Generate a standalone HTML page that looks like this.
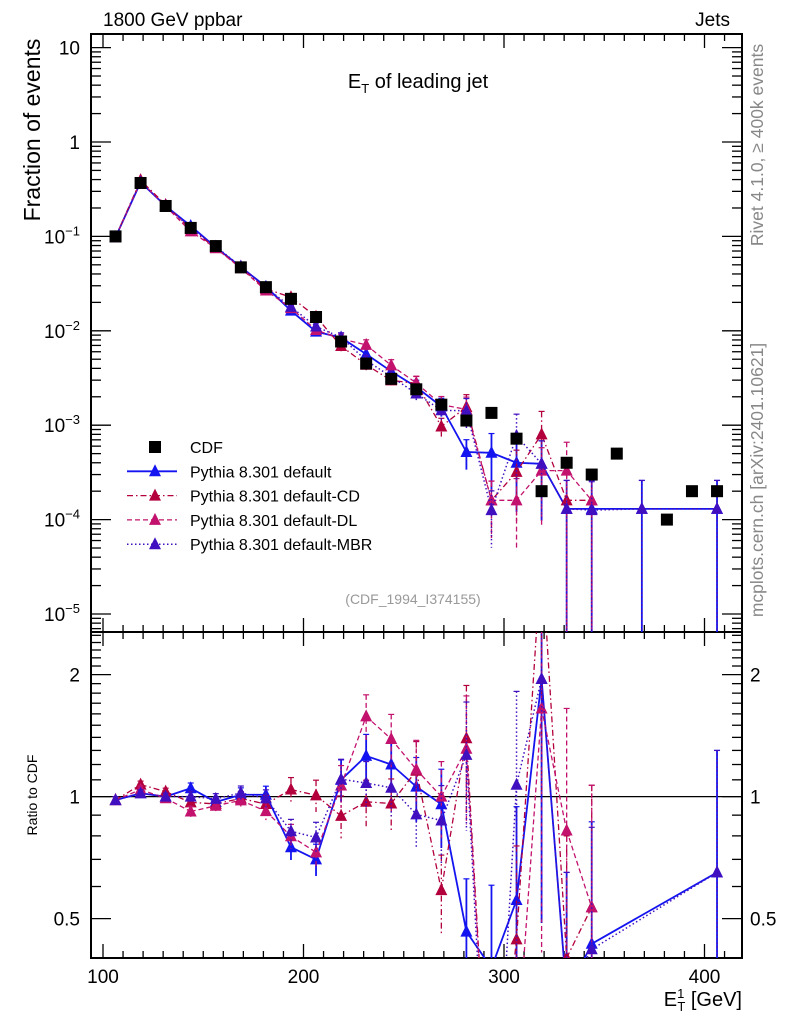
<!DOCTYPE html>
<html><head><meta charset="utf-8"><style>
html,body{margin:0;padding:0;background:#fff;overflow:hidden;width:786px;height:1024px;}
svg{display:block;font-family:"Liberation Sans",sans-serif;}
</style></head><body>
<svg id="chart" width="786" height="1024" viewBox="0 0 786 1024" xmlns="http://www.w3.org/2000/svg">
<g id="static">
<text x="103" y="26" font-size="19">1800 GeV ppbar</text>
<text x="730" y="26" font-size="19" text-anchor="end">Jets</text>
<text x="418" y="88" font-size="20" text-anchor="middle">E<tspan font-size="13" dy="5">T</tspan><tspan dy="-5"> of leading jet</tspan></text>
<text transform="translate(40,130) rotate(-90)" font-size="23" text-anchor="middle">Fraction of events</text>
<text transform="translate(37,795) rotate(-90)" font-size="14" text-anchor="middle">Ratio to CDF</text>
<text transform="translate(763,145) rotate(-90)" font-size="17.5" fill="#888" text-anchor="middle">Rivet 4.1.0, ≥ 400k events</text>
<text transform="translate(763,480) rotate(-90)" font-size="17.5" fill="#888" text-anchor="middle">mcplots.cern.ch [arXiv:2401.10621]</text>
<text x="413" y="604" font-size="14" fill="#999" text-anchor="middle">(CDF_1994_I374155)</text>
<text x="742" y="1006" font-size="20" text-anchor="end">E<tspan font-size="13" dy="-8">1</tspan><tspan font-size="13" dx="-7" dy="13">T</tspan><tspan dy="-5"> [GeV]</tspan></text>
</g>
<g id="plot"></g>
</svg>
<script>
// ---- data ----
const binCenters = [106.25,118.75,131.25,143.75,156.25,168.75,181.25,193.75,206.25,218.75,231.25,243.75,256.25,268.75,281.25,293.75,306.25,318.75,331.25,343.75,356.25,368.75,381.25,393.75,406.25];
const cdfValues = [0.1,0.368,0.21,0.123,0.079,0.047,0.029,0.0218,0.014,0.0077,0.0045,0.0031,0.0024,0.00165,0.00112,0.00135,0.00072,0.0002,0.0004,0.0003,0.0005,null,0.0001,0.0002,0.0002];
const defaultValues = [0.098,0.375,0.21,0.129,0.0766,0.0475,0.0293,0.01635,0.0098,0.00847,0.00567,0.00372,0.00254,0.00158,0.00052,0.00051,0.0004,0.00039,0.00013,0.00013,null,0.00013,null,null,0.00013];
const cdValues = [0.098,0.394,0.216,0.119,0.0758,0.0465,0.0278,0.0227,0.0141,0.0069,0.00437,0.00298,0.00278,0.00097,0.00156,0.00016,0.00032,0.0008,0.00016,0.00016,null,null,null,null,null];
const dlValues = [0.098,0.383,0.208,0.113,0.075,0.046,0.0267,0.0174,0.0102,0.0082,0.0071,0.0043,0.0028,0.00165,0.00147,0.00016,0.00016,0.00033,0.00033,0.00016,null,null,null,null,null];
const mbrValues = [0.098,0.375,0.21,0.123,0.078,0.048,0.0287,0.0179,0.0111,0.0085,0.00486,0.00326,0.00217,0.00144,0.00142,0.000126,0.00077,0.00039,0.00013,0.000126,null,0.00013,null,null,0.00013];
const relErrors = [0.02,0.02,0.02,0.03,0.03,0.04,0.05,0.07,0.09,0.12,0.13,0.15,0.18,0.22,0.35,0.6,0.7,0.75,1,1,1,1,1,1,1];
const mainTickLabels = ["10","1","10⁻¹","10⁻²","10⁻³","10⁻⁴","10⁻⁵"];
const xTickLabels = ["100","200","300","400"];
const ratioTickLabels = ["0.5","1","2"];

const series = [
 {name:"Pythia 8.301 default", key:"default", vals:defaultValues, color:"#1414f0", dash:"", width:1.8},
 {name:"Pythia 8.301 default-CD", key:"cd", vals:cdValues, color:"#b3003c", dash:"6,3,1.5,3", width:1.3},
 {name:"Pythia 8.301 default-DL", key:"dl", vals:dlValues, color:"#c2126e", dash:"5,3", width:1.3},
 {name:"Pythia 8.301 default-MBR", key:"mbr", vals:mbrValues, color:"#4010c0", dash:"1.5,2.5", width:1.5}
];

// ---- axes ----
const L=91, R=742, T=34, MB=632, RB=958;
const X = e => 103 + 2.005*(e-100);
const Y = v => Math.min(MB+10, Math.max(T-10, 142 - 94.4*Math.log10(v)));
const YRraw = r => 796.6 - 122*Math.log2(r);
const YR = r => Math.min(RB+10, Math.max(MB-10, YRraw(r)));
const NS="http://www.w3.org/2000/svg";
const plot=document.getElementById('plot');
function mk(tag, attrs, parent){const el=document.createElementNS(NS,tag);for(const k in attrs)el.setAttribute(k,attrs[k]);(parent||plot).appendChild(el);return el;}

const defs=mk('defs',{});
const c1=mk('clipPath',{id:'clipMain'},defs); mk('rect',{x:L,y:T,width:R-L,height:MB-T},c1);
const c2=mk('clipPath',{id:'clipRatio'},defs); mk('rect',{x:L,y:MB,width:R-L,height:RB-MB},c2);

let f1=mk('rect',{x:L,y:T,width:R-L,height:MB-T,fill:'none',stroke:'#000','stroke-width':2});


let f2=mk('rect',{x:L,y:MB,width:R-L,height:RB-MB,fill:'none',stroke:'#000','stroke-width':2});



const xt=mk('g',{stroke:'#000','stroke-width':1.3});


for(let e=100;e<=415;e+=10){
  const x=X(e); const major=(e%100===0); const len=major?14:7;
  [[T,1],[MB,-1],[MB,1],[RB,-1]].forEach(([y0,d])=>mk('line',{x1:x,x2:x,y1:y0,y2:y0+d*len},xt));
}
xTickLabels.forEach((t,i)=>{
  const el=mk('text',{x:X(100*(i+1)),y:RB+25,'font-size':19,'text-anchor':'middle'});
  el.textContent=t;
  
  
});

const yt=mk('g',{stroke:'#000','stroke-width':1.3});


for(let d=-6;d<=1;d++){
  for(let m=1;m<10;m++){
    const v=m*Math.pow(10,d); const y=142 - 94.4*Math.log10(v);
    if(y<T||y>MB)continue;
    const len=m===1?20:10;
    mk('line',{x1:L,x2:L+len,y1:y,y2:y},yt);
    mk('line',{x1:R,x2:R-len,y1:y,y2:y},yt);
  }
}
mainTickLabels.forEach((t,i)=>{
  const v=Math.pow(10,1-i);
  const el=mk('text',{x:80,y:Y(v)+7,'font-size':19,'text-anchor':'end'});
  
  
  if(i<2){el.textContent=t;}else{
    el.textContent='10';
    const sp=mk('tspan',{'font-size':13,dy:-8},el); sp.textContent='−'+(i-1);
  }
});

const rt=mk('g',{stroke:'#000','stroke-width':1.3});


for(let k=4;k<=25;k++){
  const r=k/10; const y=YRraw(r); if(y<MB||y>RB)continue;
  const major=(k===5||k===10||k===20); const len=major?20:10;
  mk('line',{x1:L,x2:L+len,y1:y,y2:y},rt);
  mk('line',{x1:R,x2:R-len,y1:y,y2:y},rt);
}
ratioTickLabels.forEach(t=>{
  const y=YR(parseFloat(t))+7;
  const a=mk('text',{x:80,y:y,'font-size':19,'text-anchor':'end'}); a.textContent=t;
  
  
  const b=mk('text',{x:750,y:y,'font-size':19}); b.textContent=t;
  
  
});
let one=mk('line',{x1:L,x2:R,y1:YR(1),y2:YR(1),stroke:'#000','stroke-width':1.3});



function tri(g,x,y,color){mk('path',{d:`M${x-6},${y+5}L${x+6},${y+5}L${x},${y-7}Z`,fill:color},g);}

const mainG=mk('g',{'clip-path':'url(#clipMain)'});
const ratioG=mk('g',{'clip-path':'url(#clipRatio)'});
series.forEach(s=>{
  const g=mk('g',{},mainG);
  
  
  const gr=mk('g',{},ratioG);
  
  
  let pts=[],rpts=[];
  s.vals.forEach((v,i)=>{
    if(v==null)return;
    const x=X(binCenters[i]), y=Y(v);
    pts.push([x,y]);
    const e=relErrors[i];
    const yl=e>=1?MB+5:Y(v*(1-e)), yh=Y(v*(1+e));
    mk('line',{x1:x,x2:x,y1:yh,y2:yl,stroke:s.color,'stroke-width':s.width,'stroke-dasharray':s.dash},g);
    mk('line',{x1:x-3,x2:x+3,y1:yh,y2:yh,stroke:s.color,'stroke-width':1.2},g);
    const c=cdfValues[i];
    if(c!=null){
      const r=v/c; const ry=YRraw(r);
      rpts.push([x,ry]);
      const rl=e>=1?RB+5:YR(r*(1-e)), rh=YR(r*(1+e));
      mk('line',{x1:x,x2:x,y1:rh,y2:rl,stroke:s.color,'stroke-width':s.width,'stroke-dasharray':s.dash},gr);
      mk('line',{x1:x-3,x2:x+3,y1:rh,y2:rh,stroke:s.color,'stroke-width':1.2},gr);
    }
  });
  mk('polyline',{points:pts.map(p=>p.join(',')).join(' '),fill:'none',stroke:s.color,'stroke-width':s.width,'stroke-dasharray':s.dash},g);
  // clip ratio polyline segments manually to panel range to keep geometry in-frame
  const segs=[];
  for(let j=0;j+1<rpts.length;j++){
    let [x1,y1]=rpts[j],[x2,y2]=rpts[j+1];
    const lo=MB-10, hi=RB+10;
    if((y1>hi&&y2>hi)||(y1<lo&&y2<lo))continue;
    const cl=(xa,ya,xb,yb)=>{ if(ya>hi){const t=(hi-ya)/(yb-ya);return [xa+t*(xb-xa),hi];} if(ya<lo){const t=(lo-ya)/(yb-ya);return [xa+t*(xb-xa),lo];} return [xa,ya]; };
    const p1=cl(x1,y1,x2,y2), p2=cl(x2,y2,x1,y1);
    segs.push(`M${p1[0]},${p1[1]}L${p2[0]},${p2[1]}`);
  }
  mk('path',{d:segs.join(''),fill:'none',stroke:s.color,'stroke-width':s.width,'stroke-dasharray':s.dash},gr);
  s.pts=pts; s.rpts=rpts.filter(p=>p[1]>=MB-10&&p[1]<=RB+10); s.g=g; s.gr=gr;
});
const cdfG=mk('g',{},mainG);


cdfValues.forEach((v,i)=>{
  if(v==null)return;
  mk('rect',{x:X(binCenters[i])-6,y:Y(v)-6,width:12,height:12,fill:'#000'},cdfG);
});
series.forEach(s=>{
  s.pts.forEach(p=>tri(s.g,p[0],p[1],s.color));
  s.rpts.forEach(p=>tri(s.gr,p[0],p[1],s.color));
});

const leg=mk('g',{});


const ly0=447, ldy=24.3;
const e0=mk('g',{},leg);


mk('rect',{x:149,y:ly0-6,width:12,height:12,fill:'#000'},e0);
let t0=mk('text',{x:190,y:ly0+6,'font-size':16},e0); t0.textContent='CDF';
series.forEach((s,i)=>{
  const y=ly0+ldy*(i+1);
  const e=mk('g',{},leg);
  
  
  mk('line',{x1:127,x2:177,y1:y,y2:y,stroke:s.color,'stroke-width':s.width,'stroke-dasharray':s.dash},e);
  tri(e,155,y,s.color);
  const t=mk('text',{x:190,y:y+6,'font-size':16},e); t.textContent=s.name;
});
</script>
</body></html>
